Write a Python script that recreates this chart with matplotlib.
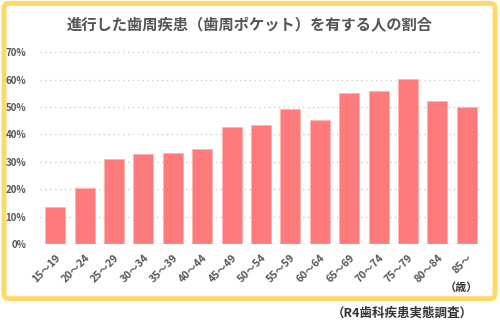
import numpy as np
import matplotlib.pyplot as plt
from matplotlib.patches import FancyBboxPatch

plt.rcParams['font.family'] = ['Noto Sans CJK JP', 'DejaVu Sans']

# -----------------------------------------------------------------------------------------

ages = ['15～19', '20～24', '25～29', '30～34', '35～39', '40～44', '45～49',
        '50～54', '55～59', '60～64', '65～69', '70～74', '75～79', '80～84', '85～']
ratio = [13.6, 20.3, 30.9, 33.0, 33.2, 34.8, 42.8,
         43.4, 49.2, 45.3, 55.0, 55.9, 60.1, 52.1, 49.9]
yticks = [0, 10, 20, 30, 40, 50, 60, 70]

title = '進行した歯周疾患（歯周ポケット）を有する人の割合'
source = '（R4歯科疾患実態調査）'

grey = '#555555'

# -----------------------------------------------------------------------------------------

fig = plt.figure(figsize=(5, 3.3), dpi=100)

box = FancyBboxPatch((0.008, 0.095), 0.982, 0.895, transform=fig.transFigure,
                     boxstyle='round,pad=0,rounding_size=0.012',
                     facecolor='white', edgecolor='#ffd966', linewidth=3.5,
                     zorder=-1)
fig.patches.append(box)

ax = fig.add_axes([0.08, 0.2606, 0.884, 0.5979])
ax.set_facecolor('none')

x = np.arange(len(ages))
ax.bar(x, ratio, width=0.68, color='#ff7b7b', edgecolor='#ffb3b3', linewidth=0.6, zorder=3)

ax.set_xlim(-0.52, len(ages) - 0.48)
ax.set_ylim(0, 72)

for y in yticks[1:]:
    ax.axhline(y, color='#cccccc', linestyle=(0, (1, 2.5)), linewidth=1.0, zorder=1)
ax.axhline(0, color='#d0d0d0', linewidth=1.0, zorder=4)

for s in ax.spines.values():
    s.set_visible(False)

ax.set_yticks(yticks)
ax.set_yticklabels(['%d%%' % v for v in yticks], fontsize=7, color=grey, fontweight='bold')
ax.set_xticks(x)
ax.set_xticklabels(ages, rotation=45, ha='right', rotation_mode='anchor',
                   fontsize=7.5, color=grey, fontweight='bold')
ax.tick_params(length=0, axis='y', pad=10)
ax.tick_params(length=0, axis='x', pad=6)

fig.text(0.5, 0.925, title, ha='center', va='center', fontsize=11,
         fontweight='bold', color=grey)
fig.text(0.955, 0.13, '（歳）', ha='right', va='center', fontsize=8,
         fontweight='bold', color='#333333')
fig.text(0.945, 0.052, source, ha='right', va='center', fontsize=9,
         fontweight='bold', color='#333333')

fig.savefig('out.png', dpi=100, facecolor='white')
